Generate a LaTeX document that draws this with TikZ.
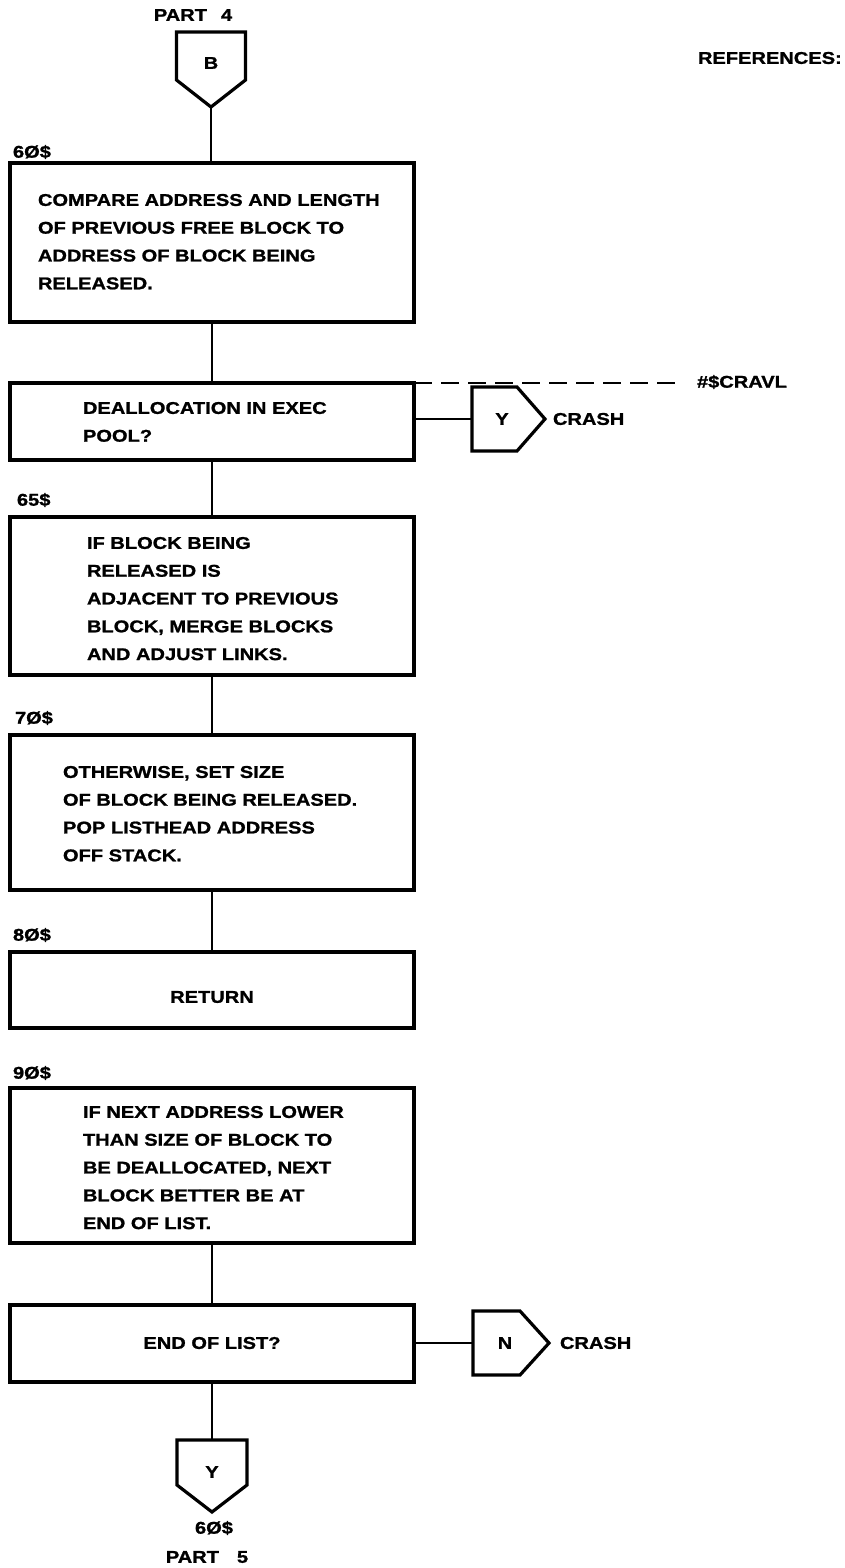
\documentclass[tikz,border=0pt]{standalone}
\usepackage{fontspec}
\newfontfamily\chartfont{Liberation Sans}[FakeStretch=1.18,FakeBold=1.2]
\begin{document}
\begin{tikzpicture}[x=1pt,y=-1pt,
  every node/.style={inner sep=0pt, outer sep=0pt,
    font=\chartfont\bfseries\fontsize{17}{27.8}\selectfont},
  procbox/.style={draw, line width=3.2pt, minimum width=404pt},
  flow/.style={line width=2pt},
  offpage/.style={line width=3.2pt, line join=miter},
  dashlink/.style={line width=2.8pt, dash pattern=on 18pt off 9pt},
  txt/.style={align=left, anchor=north west},
  lbl/.style={anchor=west}]
\useasboundingbox (0,0) rectangle (844,1568);

% page header
\node (part4) at (193,15) {PART\hspace{14pt}4};
\node[lbl] (refs) at (698,58) {REFERENCES:};

% entry connector B
\node (offB) at (211,63) {B};
\draw[offpage] ([shift={(-34.5,-31)}]offB.center) -- ++(69,0) -- ++(0,48)
  -- ++(-34.5,27) coordinate (offBtip) -- ++(-34.5,-27) -- cycle;

% process boxes
\node[procbox, minimum height=159pt] (b60)   at (212,242.5) {};
\node[procbox, minimum height=77pt]  (bpool) at (212,421.5) {};
\node[procbox, minimum height=158pt] (b65)   at (212,596)   {};
\node[procbox, minimum height=155pt] (b70)   at (212,812.5) {};
\node[procbox, minimum height=76pt]  (b80)   at (212,990)   {};
\node[procbox, minimum height=155pt] (b90)   at (212,1165.5){};
\node[procbox, minimum height=77pt]  (bend)  at (212,1343.5){};

% box labels
\node[lbl] (l60) at (13,152)  {6Ø\$};
\node[lbl] (l65) at (17,500)  {65\$};
\node[lbl] (l70) at (15,718)  {7Ø\$};
\node[lbl] (l80) at (13,935)  {8Ø\$};
\node[lbl] (l90) at (13,1073) {9Ø\$};

% box texts
\node[txt] (t60) at (38,194) {COMPARE ADDRESS AND LENGTH\\OF PREVIOUS FREE BLOCK TO\\ADDRESS OF BLOCK BEING\\RELEASED.};
\node[txt] (tpool) at (83,402) {DEALLOCATION IN EXEC\\POOL?};
\node[txt] (t65) at (87,537) {IF BLOCK BEING\\RELEASED IS\\ADJACENT TO PREVIOUS\\BLOCK, MERGE BLOCKS\\AND ADJUST LINKS.};
\node[txt] (t70) at (63,766) {OTHERWISE, SET SIZE\\OF BLOCK BEING RELEASED.\\POP LISTHEAD ADDRESS\\OFF STACK.};
\node (t80) at (212,997) {RETURN};
\node[txt] (t90) at (83,1106) {IF NEXT ADDRESS LOWER\\THAN SIZE OF BLOCK TO\\BE DEALLOCATED, NEXT\\BLOCK BETTER BE AT\\END OF LIST.};
\node (tend) at (212,1343) {END OF LIST?};

% exec pool exit (Y -> CRASH)
\node (offY) at (502,419) {Y};
\draw[offpage] ([shift={(-30,-32)}]offY.center) -- ++(45,0) -- ++(28,32)
  -- ++(-28,32) -- ++(-45,0) -- cycle;
\coordinate (offYin) at ([xshift=-30pt]offY.center);
\node[lbl] (crash1) at (553,419) {CRASH};

% reference to crash routine
\coordinate (cravlend) at (677,383);
\node[lbl] (cravl) at (697,382) {\#\$CRAVL};

% end of list exit (N -> CRASH)
\node (offN) at (505,1343) {N};
\draw[offpage] ([shift={(-32,-32)}]offN.center) -- ++(47,0) -- ++(29,32)
  -- ++(-29,32) -- ++(-47,0) -- cycle;
\coordinate (offNin) at ([xshift=-32pt]offN.center);
\node[lbl] (crash2) at (560,1343) {CRASH};

% exit connector Y
\node (offYb) at (212,1472) {Y};
\draw[offpage] ([shift={(-35,-32)}]offYb.center) -- ++(70,0) -- ++(0,45)
  -- ++(-35,27) -- ++(-35,-27) -- cycle;
\coordinate (offYbtop) at ([yshift=32pt]offYb.center);
\node (l60b) at (214,1528) {6Ø\$};
\node (part5) at (207,1557) {PART\hspace{18pt}5};

% flow lines
\draw[flow] (offBtip) -- (offBtip |- b60.north);
\draw[flow] (b60.south) -- (bpool.north);
\draw[flow] (bpool.south) -- (b65.north);
\draw[flow] (b65.south) -- (b70.north);
\draw[flow] (b70.south) -- (b80.north);
\draw[flow] (b90.south) -- (bend.north);
\draw[flow] (bend.south) -- (offYbtop);
\draw[flow] (offYin -| bpool.east) -- (offYin);
\draw[flow] (offNin -| bend.east) -- (offNin);
\draw[dashlink] (bpool.north east) -- (cravlend);
\end{tikzpicture}
\end{document}
